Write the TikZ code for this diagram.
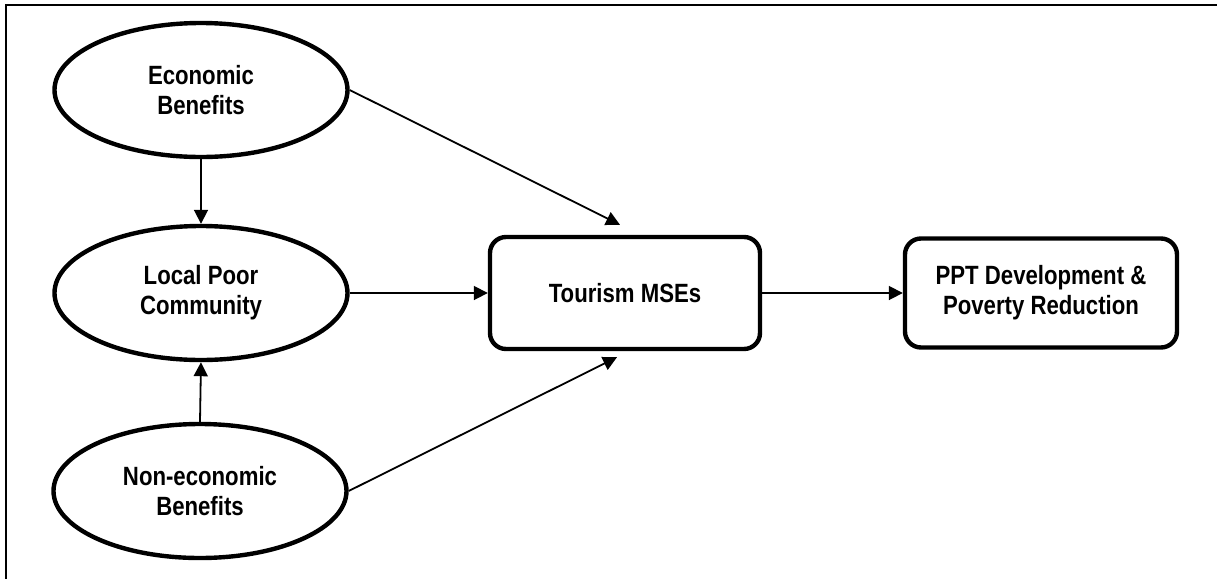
\documentclass[tikz,border=0pt]{standalone}
\usepackage{fontspec}
\setmainfont{Liberation Sans}[FakeStretch=0.84]
\usetikzlibrary{shapes.geometric,arrows.meta}
\tikzset{
  oval/.style={draw,ellipse,line width=2.2pt,minimum width=146.5pt,minimum height=67pt,
    align=center,font=\bfseries\fontsize{13.2}{15}\selectfont},
  rbox/.style={draw,rounded corners=8pt,line width=2.2pt,
    align=center,font=\bfseries\fontsize{13.2}{15}\selectfont},
  link/.style={->,>={Triangle[length=7pt,width=7pt]},line width=0.9pt}
}
\begin{document}
\begin{tikzpicture}[x=0.5pt,y=-0.5pt]
\useasboundingbox (0,0) rectangle (1217,579);
\draw[line width=1.2pt] (6,579) -- (6,5) -- (1217,5);

\node[oval] (eco) at (201,90) {Economic\\Benefits};
\node[oval] (loc) at (201,293) {Local Poor\\Community};
\node[oval] (noneco) at (200,491) {Non-economic\\Benefits};

\node[rbox,minimum width=135pt,minimum height=56pt] (tour) at (625,293) {Tourism MSEs};
\node[rbox,minimum width=136pt,minimum height=54.5pt] (ppt) at (1041,293) {PPT Development \&\\Poverty Reduction};

\draw[link] (eco.south) -- (loc.north);
\draw[link] (noneco.north) -- (loc.south);
\draw[link] (eco.east) -- ([xshift=-2.5pt,yshift=5pt]tour.north);
\draw[link] (loc.east) -- (tour.west);
\draw[link] (noneco.east) -- ([xshift=-4pt,yshift=-3pt]tour.south);
\draw[link] (tour.east) -- (ppt.west);
\end{tikzpicture}
\end{document}
